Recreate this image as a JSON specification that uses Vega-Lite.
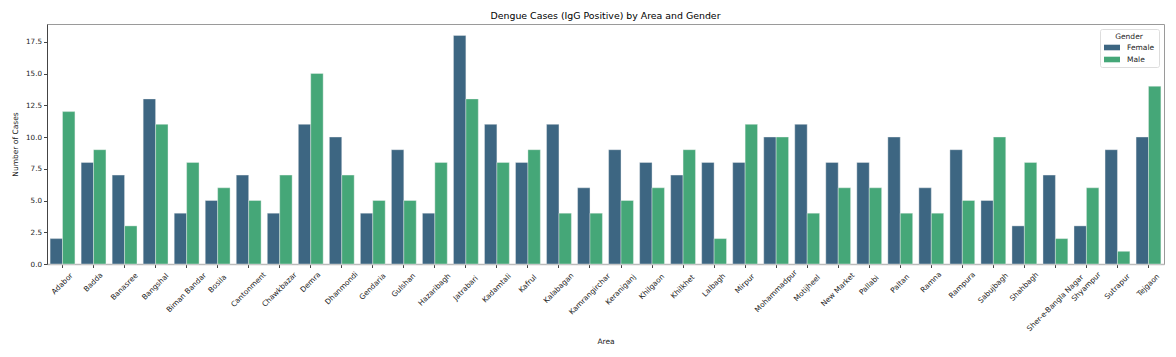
{
  "$schema": "https://vega.github.io/schema/vega-lite/v6.json",
  "autosize": {"type": "none"},
  "width": 1117,
  "height": 240,
  "padding": {"left": 47, "top": 24, "right": 12, "bottom": 93},
  "background": "white",
  "title": {"text": "Dengue Cases (IgG Positive) by Area and Gender", "fontSize": 9.4, "fontWeight": "normal", "font": "DejaVu Sans", "color": "#000", "anchor": "middle", "offset": 3},
  "config": {
    "font": "DejaVu Sans",
    "view": {"stroke": "#9a9a9a", "strokeWidth": 1},
    "axis": {"grid": false, "labelFont": "DejaVu Sans", "titleFont": "DejaVu Sans", "labelColor": "#222", "titleColor": "#222", "tickColor": "#444", "titleFontWeight": "normal"}
  },
  "data": {"values": [
    {"Area": "Adabor", "Gender": "Female", "Cases": 2}, {"Area": "Adabor", "Gender": "Male", "Cases": 12},
    {"Area": "Badda", "Gender": "Female", "Cases": 8}, {"Area": "Badda", "Gender": "Male", "Cases": 9},
    {"Area": "Banasree", "Gender": "Female", "Cases": 7}, {"Area": "Banasree", "Gender": "Male", "Cases": 3},
    {"Area": "Bangshal", "Gender": "Female", "Cases": 13}, {"Area": "Bangshal", "Gender": "Male", "Cases": 11},
    {"Area": "Biman Bandar", "Gender": "Female", "Cases": 4}, {"Area": "Biman Bandar", "Gender": "Male", "Cases": 8},
    {"Area": "Bosila", "Gender": "Female", "Cases": 5}, {"Area": "Bosila", "Gender": "Male", "Cases": 6},
    {"Area": "Cantonment", "Gender": "Female", "Cases": 7}, {"Area": "Cantonment", "Gender": "Male", "Cases": 5},
    {"Area": "Chawkbazar", "Gender": "Female", "Cases": 4}, {"Area": "Chawkbazar", "Gender": "Male", "Cases": 7},
    {"Area": "Demra", "Gender": "Female", "Cases": 11}, {"Area": "Demra", "Gender": "Male", "Cases": 15},
    {"Area": "Dhanmondi", "Gender": "Female", "Cases": 10}, {"Area": "Dhanmondi", "Gender": "Male", "Cases": 7},
    {"Area": "Gendaria", "Gender": "Female", "Cases": 4}, {"Area": "Gendaria", "Gender": "Male", "Cases": 5},
    {"Area": "Gulshan", "Gender": "Female", "Cases": 9}, {"Area": "Gulshan", "Gender": "Male", "Cases": 5},
    {"Area": "Hazaribagh", "Gender": "Female", "Cases": 4}, {"Area": "Hazaribagh", "Gender": "Male", "Cases": 8},
    {"Area": "Jatrabari", "Gender": "Female", "Cases": 18}, {"Area": "Jatrabari", "Gender": "Male", "Cases": 13},
    {"Area": "Kadamtali", "Gender": "Female", "Cases": 11}, {"Area": "Kadamtali", "Gender": "Male", "Cases": 8},
    {"Area": "Kafrul", "Gender": "Female", "Cases": 8}, {"Area": "Kafrul", "Gender": "Male", "Cases": 9},
    {"Area": "Kalabagan", "Gender": "Female", "Cases": 11}, {"Area": "Kalabagan", "Gender": "Male", "Cases": 4},
    {"Area": "Kamrangirchar", "Gender": "Female", "Cases": 6}, {"Area": "Kamrangirchar", "Gender": "Male", "Cases": 4},
    {"Area": "Keraniganj", "Gender": "Female", "Cases": 9}, {"Area": "Keraniganj", "Gender": "Male", "Cases": 5},
    {"Area": "Khilgaon", "Gender": "Female", "Cases": 8}, {"Area": "Khilgaon", "Gender": "Male", "Cases": 6},
    {"Area": "Khilkhet", "Gender": "Female", "Cases": 7}, {"Area": "Khilkhet", "Gender": "Male", "Cases": 9},
    {"Area": "Lalbagh", "Gender": "Female", "Cases": 8}, {"Area": "Lalbagh", "Gender": "Male", "Cases": 2},
    {"Area": "Mirpur", "Gender": "Female", "Cases": 8}, {"Area": "Mirpur", "Gender": "Male", "Cases": 11},
    {"Area": "Mohammadpur", "Gender": "Female", "Cases": 10}, {"Area": "Mohammadpur", "Gender": "Male", "Cases": 10},
    {"Area": "Motijheel", "Gender": "Female", "Cases": 11}, {"Area": "Motijheel", "Gender": "Male", "Cases": 4},
    {"Area": "New Market", "Gender": "Female", "Cases": 8}, {"Area": "New Market", "Gender": "Male", "Cases": 6},
    {"Area": "Pallabi", "Gender": "Female", "Cases": 8}, {"Area": "Pallabi", "Gender": "Male", "Cases": 6},
    {"Area": "Paltan", "Gender": "Female", "Cases": 10}, {"Area": "Paltan", "Gender": "Male", "Cases": 4},
    {"Area": "Ramna", "Gender": "Female", "Cases": 6}, {"Area": "Ramna", "Gender": "Male", "Cases": 4},
    {"Area": "Rampura", "Gender": "Female", "Cases": 9}, {"Area": "Rampura", "Gender": "Male", "Cases": 5},
    {"Area": "Sabujbagh", "Gender": "Female", "Cases": 5}, {"Area": "Sabujbagh", "Gender": "Male", "Cases": 10},
    {"Area": "Shahbagh", "Gender": "Female", "Cases": 3}, {"Area": "Shahbagh", "Gender": "Male", "Cases": 8},
    {"Area": "Sher-e-Bangla Nagar", "Gender": "Female", "Cases": 7}, {"Area": "Sher-e-Bangla Nagar", "Gender": "Male", "Cases": 2},
    {"Area": "Shyampur", "Gender": "Female", "Cases": 3}, {"Area": "Shyampur", "Gender": "Male", "Cases": 6},
    {"Area": "Sutrapur", "Gender": "Female", "Cases": 9}, {"Area": "Sutrapur", "Gender": "Male", "Cases": 1},
    {"Area": "Tejgaon", "Gender": "Female", "Cases": 10}, {"Area": "Tejgaon", "Gender": "Male", "Cases": 14}
  ]},
  "mark": {"type": "bar", "stroke": "#f2f2f2", "strokeWidth": 0.4},
  "encoding": {
    "x": {
      "field": "Area", "type": "nominal", "sort": null,
      "scale": {"paddingInner": 0.2, "paddingOuter": 0.1},
      "axis": {
        "title": "Area", "titleFontSize": 7.5, "titleY": 77, "titleBaseline": "middle",
        "labelFontSize": 7.4, "labelAngle": -45, "labelAlign": "center", "labelBaseline": "middle",
        "labelPadding": {"expr": "4 + (length(datum.label) * 4.2 + 8.5) * 0.354"},
        "tickSize": 3.5, "labelOverlap": false, "labelBound": false, "labelFlush": false,
        "domainColor": "#bbbbbb", "domainWidth": 1.5
      }
    },
    "xOffset": {"field": "Gender", "type": "nominal", "scale": {"paddingInner": 0, "paddingOuter": 0}},
    "y": {
      "field": "Cases", "type": "quantitative",
      "scale": {"domain": [0, 18.9], "nice": false, "zero": true},
      "axis": {"title": "Number of Cases", "titleFontSize": 7.5, "titlePadding": 6,
        "values": [0, 2.5, 5, 7.5, 10, 12.5, 15, 17.5], "format": ".1f",
        "labelFontSize": 7.2, "labelPadding": 2, "tickSize": 3.5, "domainColor": "#444", "domainWidth": 1}
    },
    "color": {
      "field": "Gender", "type": "nominal",
      "scale": {"domain": ["Female", "Male"], "range": ["#3d6682", "#45a778"]},
      "legend": {
        "title": "Gender", "orient": "top-right", "offset": 5,
        "titleFontSize": 7.5, "titleFontWeight": "normal", "titleAnchor": "middle", "titleColor": "#222", "titlePadding": 3,
        "labelFontSize": 7.5, "labelColor": "#222",
        "symbolType": "M-2,-0.7L2,-0.7L2,0.7L-2,0.7Z", "symbolSize": 64, "symbolStrokeWidth": 0, "symbolOffset": 4,
        "strokeColor": "#dddddd", "fillColor": "white", "padding": 4, "cornerRadius": 2,
        "rowPadding": 4, "labelOffset": 11
      }
    }
  }
}
